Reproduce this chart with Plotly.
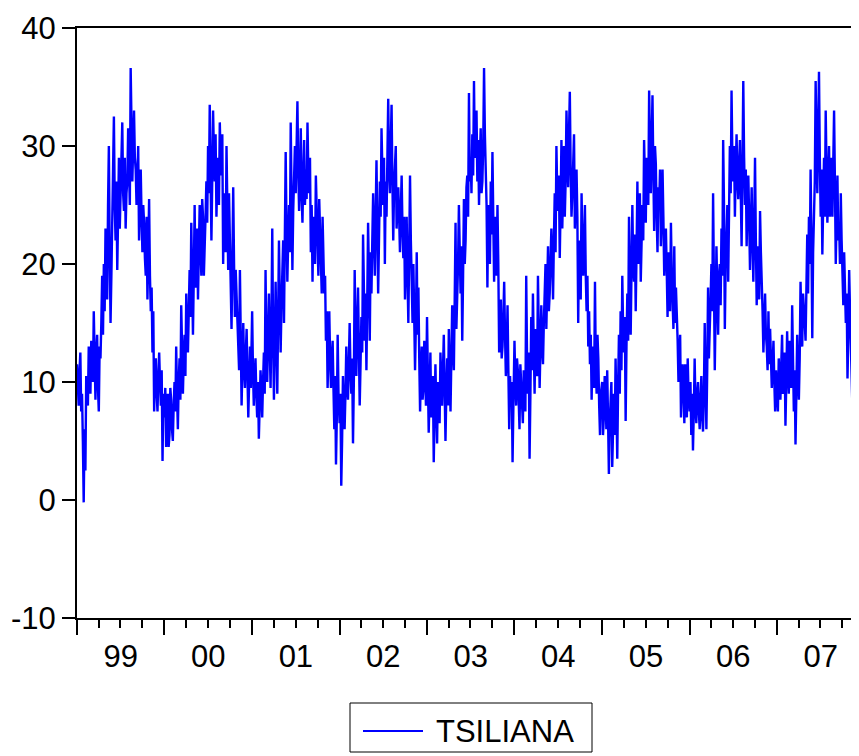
import pandas as pd
import plotly.graph_objects as go

# TSILIANA readings (deg C).
# w_YYYY: reading at the start of each week (Jan 1 + 7*k days)
# m_YYYY: reading in the middle of the same week (3.5 days later)
w1999 = [11.5, 8, 12.5, 9, -0.2, 2.5, 9.5, 13, 9, 12, 16, 8.5, 14, 7.5, 12, 19, 20, 23, 17, 30,
         15, 24, 32.5, 22, 19.5, 29, 27, 32, 24.5, 23, 27, 29, 36.6, 27, 33, 28, 27, 22, 28, 21,
         23.5, 19, 17, 25.5, 16, 12.5, 7.5, 12, 7.5, 12.5, 8, 3.3]
m1999 = [9.5, 11, 7.5, 5, 6, 10.5, 8, 10, 13.5, 10, 11.5, 12.5, 9.5, 13, 15, 14, 16, 18.5, 25, 21,
         19, 28, 25, 27, 24, 23, 30, 26, 29, 26, 31.5, 25, 31, 30, 29, 25, 30, 25, 24, 25,
         20.5, 24, 21, 19, 18, 16, 11, 9, 10.5, 10, 11, 9]
w2000 = [7, 4.5, 9, 5.5, 8.5, 5, 10, 13, 6, 12, 16.5, 9, 14, 17.5, 12.5, 19.5, 23.5, 14, 25, 20.5,
         17, 25, 19, 24, 21, 27, 30, 33.5, 22, 33, 27, 24, 29, 32, 27.5, 20, 24.5, 30, 19.5, 22.5,
         14.5, 26.5, 15.5, 17.5, 13.5, 19.5, 8, 15, 9.5, 14.5, 7, 13]
m2000 = [9.5, 7, 4.5, 9.5, 6, 8, 7.5, 9, 10, 8.5, 13, 12, 10.5, 14, 16, 15.5, 19, 19, 18, 23,
         22, 21.5, 25.5, 19, 24, 23.5, 26, 28, 27, 29.5, 31, 27.5, 25, 29, 31, 26, 21, 25, 26, 19,
         20, 20, 19.5, 14.5, 11, 14, 11.5, 11, 12.5, 10.5, 10, 9.5]
w2001 = [16, 8, 12, 7, 5.2, 11, 7, 12.5, 19.5, 10, 17.5, 9.5, 23, 8.5, 18.5, 9, 22, 12.5, 19, 15,
         29.5, 18.5, 25, 32, 19.5, 28, 26, 33.8, 24.5, 31.5, 23.5, 30.5, 28, 32, 26, 21, 18.5, 22.5,
         27.5, 21.5, 25.5, 20, 24, 17.5, 13.5, 9.5, 16, 9.5, 13.5, 6, 3, 14]
m2001 = [11, 10.5, 9, 10, 8, 9.5, 10, 9, 13, 14, 13, 15, 14, 13, 14, 15.5, 17, 16.5, 22, 21,
         23, 22, 21, 26, 24.5, 30, 29, 28, 27, 26, 27.5, 25, 25.5, 28, 29, 25, 24, 20, 24, 19,
         22, 17.5, 20, 19, 16, 12.5, 12, 12, 9.5, 10.5, 7, 9]
w2002 = [6.5, 1.2, 10.5, 6, 13, 8.5, 15, 9, 4.8, 19.5, 10.5, 18, 8, 15.5, 22.5, 13.5, 11, 23.5, 13.5,
         17.5, 26, 19, 28.8, 17.5, 27, 31.5, 25, 20, 24, 34, 26, 33.5, 22, 28, 23, 26.5, 21, 27.5,
         20.5, 17, 24, 15, 27.5, 18, 20, 11, 21, 18, 7.5, 13, 9.5, 11.5]
m2002 = [9, 5, 8, 9, 10, 11.5, 11, 12, 10, 14, 15, 13, 11.5, 12.5, 18, 17.5, 17, 19, 21, 22,
         22.5, 24, 23, 22, 24, 28, 29, 27, 29, 28, 30, 27, 26.5, 30, 25, 24, 24.5, 23, 24, 20,
         19, 21, 22, 15, 16, 15, 14, 12, 11, 8.5, 13.5, 8]
w2003 = [15.5, 5.7, 12.5, 9.5, 3.2, 11.5, 4.8, 8.5, 12.5, 8, 14, 5, 12, 14.5, 7.5, 16.5, 11, 23.5,
         16.8, 25, 17.5, 13.5, 25.5, 22, 27.5, 34.5, 29, 31, 35.5, 30, 27, 25, 31.5, 27, 36.6, 28,
         18, 23, 27, 29.5, 18.5, 22.5, 25, 12.5, 17, 13, 18.5, 10.5, 16.5, 6, 8, 3.2]
m2003 = [10, 9, 7, 10.5, 7, 8, 10, 6.5, 10.5, 11, 9.5, 9, 8, 11, 12, 13, 17, 14.5, 20, 21,
         21.5, 19, 20, 26.5, 24, 27, 26, 27.5, 29, 33, 30.5, 29, 26, 30, 31, 25, 25, 20, 22.5, 24,
         24, 19, 20, 15, 12, 15.5, 14, 12.5, 11, 10.5, 10, 8]
w2004 = [13.5, 8, 11, 6, 9.5, 6.5, 10, 19, 9, 3.5, 15.5, 17.5, 9, 12, 19, 9.5, 16.5, 11.5, 17.5,
         14.5, 21.5, 17.5, 23, 17, 26, 30, 24.5, 20.5, 30.5, 26, 24, 33, 26.5, 34.6, 24, 29, 23, 28,
         15, 20.5, 26, 19, 25, 16, 13, 11.5, 8.5, 12, 18.5, 9, 12, 5.5]
m2004 = [10, 12, 8.5, 11.5, 8, 11, 7.5, 12, 12.5, 9, 11, 13, 14.5, 10.5, 14, 13, 13, 15, 20, 18,
         16, 20.5, 20, 22, 21, 26, 27.5, 25, 23, 30, 27, 28, 31, 28, 26, 31, 25, 24, 22, 17,
         22, 21.5, 19, 19, 16, 14, 13, 9.5, 11, 14, 8, 9]
w2005 = [10, 7, 9, 11, 2.2, 8.5, 2.8, 9, 12, 3.5, 14, 16, 19, 12.5, 6.7, 17.5, 24, 14, 25, 18.5,
         16, 27, 22.5, 18.5, 25, 30.5, 23.5, 27, 34.7, 26, 34.3, 22.8, 28.5, 21, 25, 21.5, 28, 19,
         23, 15.5, 19.5, 23.5, 16.5, 21.5, 18, 13.5, 12, 7, 11.5, 6.5, 10, 12]
m2005 = [5.5, 10.5, 6, 7, 6.5, 10, 7, 5.5, 8, 9.5, 9, 11, 14.5, 15.5, 13, 13.5, 19, 19.5, 20, 22.5,
         21, 20, 26, 23, 22, 27, 29, 25, 30, 30, 28, 30, 24, 26.5, 28, 24, 24, 22, 19.5, 21,
         16, 19, 14.5, 15, 16, 10, 14, 10, 9.5, 11.5, 7, 9]
w2006 = [7.5, 5.5, 4.2, 12, 6.5, 10, 6, 10.5, 5.8, 15, 6, 18, 14, 20, 26, 11, 21.5, 14, 20, 23,
         30.5, 14.5, 22.5, 18.5, 30, 34.7, 27, 24, 31, 25.5, 30.5, 21.5, 35.5, 25, 21.5, 27.5, 19.5,
         26.5, 18.5, 29, 16.5, 20, 24.5, 19, 12.5, 17.5, 13, 16, 14.5, 9.5, 13.5, 7.5]
m2006 = [10, 9, 7.5, 8, 9, 7.5, 8.5, 7, 9, 10, 11, 12, 17, 16, 18, 16, 17.5, 19, 16.5, 19,
         25, 20, 25, 24, 26, 29, 30, 28, 27, 28.5, 26, 28, 29, 28, 25, 24, 23, 22, 23, 22,
         21.5, 17, 21, 16, 15.5, 14, 11, 11.5, 12, 11.5, 10, 11]
w2007 = [9, 12, 8.5, 14, 10, 6.3, 14.3, 9, 12, 16.5, 7.5, 4.7, 14, 8.5, 18.5, 13, 16.5, 13.5, 22.5,
         24, 28, 13.7, 24, 35.5, 26, 36.3, 24, 20.8, 29, 33, 23.5, 30, 26.5, 24, 33, 20, 27.5, 23.5,
         26, 19, 21, 15, 10.3, 19.5, 13, 7.5, 20, 9.5, 14, 6.5]
m2007 = [7.5, 10, 11.5, 9, 12.5, 10, 11, 13.5, 9.5, 12, 11, 9, 11, 12, 15, 17.5, 15, 19, 17.5, 20,
         22, 21, 27, 30, 31, 29, 28, 25, 24, 28, 27, 24, 29, 28, 27, 24, 22, 20, 22, 16.5,
         18, 17.5, 14, 16, 11, 12, 14, 11, 9.5]

years = [1999, 2000, 2001, 2002, 2003, 2004, 2005, 2006, 2007]
week_start = [w1999, w2000, w2001, w2002, w2003, w2004, w2005, w2006, w2007]
mid_week = [m1999, m2000, m2001, m2002, m2003, m2004, m2005, m2006, m2007]
series_name = "TSILIANA"
y_ticks = [-10, 0, 10, 20, 30, 40]
y_labels = ["-10", "0", "10", "20", "30", "40"]

pairs = []
for yr, wv, mv in zip(years, week_start, mid_week):
    wd = pd.date_range(f"{yr}-01-01", periods=len(wv), freq="7D")
    md = wd[:len(mv)] + pd.Timedelta(hours=84)
    pairs.extend(zip(wd, wv))
    pairs.extend(zip(md, mv))
pairs.sort(key=lambda p: p[0])
dates = [p[0] for p in pairs]
values = [p[1] for p in pairs]

FONT = "Liberation Sans, Arial, sans-serif"
BLUE = "#0000FF"

fig = go.Figure()
fig.add_trace(go.Scatter(x=dates, y=values, mode="lines", name=series_name,
                         line=dict(color=BLUE, width=2.4), showlegend=False))

fig.update_layout(
    width=851, height=748,
    margin=dict(l=69, r=0, t=20, b=138),
    plot_bgcolor="white", paper_bgcolor="white",
    font=dict(family=FONT, size=31, color="black"),
    showlegend=False,
    xaxis=dict(
        type="date", range=["1999-01-01", "2007-12-09"],
        showline=True, linecolor="black", linewidth=2, mirror=True,
        ticks="outside", ticklen=15, tickwidth=2, tickcolor="black",
        dtick="M12", tick0="1999-01-01", tickformat="%y", ticklabelmode="period",
        ticklabelstandoff=-5,
        showgrid=False, zeroline=False,
        minor=dict(dtick="M3", tick0="1999-01-01", ticks="outside", ticklen=8,
                   tickwidth=2, tickcolor="black", showgrid=False),
    ),
    yaxis=dict(
        range=[-10, 40], tickmode="array", tickvals=y_ticks, ticktext=y_labels,
        showline=True, linecolor="black", linewidth=2,
        ticks="outside", ticklen=13, tickwidth=2, tickcolor="black",
        showgrid=False, zeroline=False,
    ),
)

# Legend box drawn by hand (EViews style); page pixels -> paper coords
def px_x(p):
    return (p - 77) / 782.0

def px_y(p):
    return (618 - p) / 590.0

fig.add_shape(type="rect", xref="paper", yref="paper",
              x0=px_x(350), x1=px_x(592), y0=px_y(752), y1=px_y(703),
              line=dict(color="black", width=1), fillcolor="white")
fig.add_shape(type="line", xref="paper", yref="paper",
              x0=px_x(363), x1=px_x(423), y0=px_y(731), y1=px_y(731),
              line=dict(color=BLUE, width=2))
fig.add_annotation(xref="paper", yref="paper", x=px_x(434), y=px_y(731),
                   xanchor="left", yanchor="middle", showarrow=False,
                   text=series_name, font=dict(family=FONT, size=31, color="black"))

fig.write_html("out.html")
